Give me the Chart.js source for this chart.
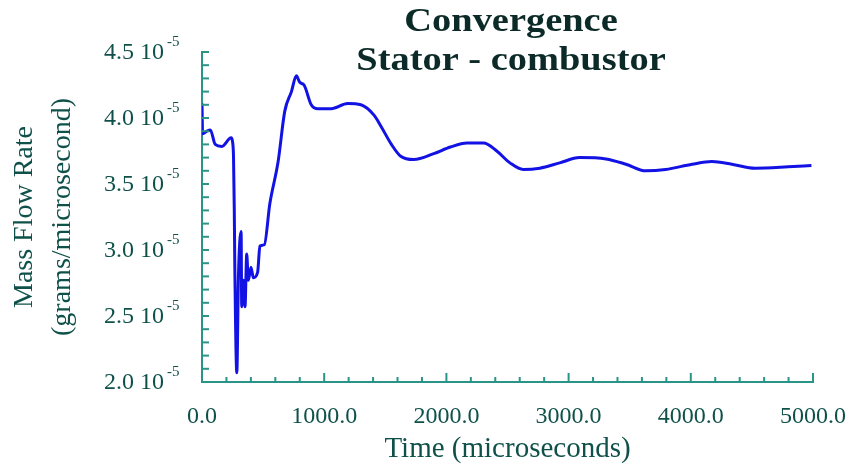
<!DOCTYPE html>
<html>
<head>
<meta charset="utf-8">
<script src="https://cdn.jsdelivr.net/npm/chart.js@4"></script>
<style>
  html, body { margin: 0; padding: 0; background: #fff; }
  #wrap { width: 846px; height: 471px; }
</style>
</head>
<body>
<div id="wrap"><canvas id="grafico" width="846" height="471"></canvas></div>
<script>
// time in microseconds, mass flow rate in units of 10^-5 grams/microsecond
const tempos = [0, 5, 40, 68, 108, 163, 238, 250, 258, 264, 268, 285, 298, 320, 325, 339, 352, 366, 379, 401,
    420, 455, 474, 510, 555, 623, 677, 732, 772, 800, 835, 894, 948, 1057, 1192, 1300, 1409, 1463, 1550, 1626,
    1734, 1897, 2033, 2168, 2303, 2412, 2520, 2629, 2764, 2927, 3089, 3306, 3469, 3631, 3794, 4011, 4173, 4336,
    4526, 4797, 4987];
const fluxo = [4.11, 3.88, 3.90, 3.91, 3.80, 3.785, 3.85, 3.82, 3.70, 3.32, 2.92, 2.07, 2.79, 3.14, 2.57, 2.77, 2.57, 2.97, 2.77, 2.87,
    2.79, 2.83, 3.03, 3.04, 3.35, 3.67, 4.05, 4.20, 4.32, 4.27, 4.25, 4.10, 4.07, 4.07, 4.11, 4.10, 4.02, 3.94, 3.80, 3.71,
    3.685, 3.73, 3.78, 3.81, 3.81, 3.75, 3.66, 3.61, 3.62, 3.66, 3.70, 3.69, 3.65, 3.60, 3.61, 3.65, 3.67, 3.65,
    3.62, 3.63, 3.64];
const rotulosY = [2.0, 2.5, 3.0, 3.5, 4.0, 4.5];
const expoente = '-5';
const titulo = ['Convergence', 'Stator - combustor'];

const corEixo = '#2a9486';
const corTexto = '#0f514a';
const serif = "'Liberation Serif', 'Times New Roman', serif";

const decoracao = {
    id: 'decoracao',
    afterDraw(chart){
        const ctx = chart.ctx;
        const area = chart.chartArea;
        const sx = chart.scales.x;
        const sy = chart.scales.y;
        ctx.save();

        // tick marks pointing into the plot
        ctx.strokeStyle = corEixo;
        ctx.lineWidth = 2;
        sy.ticks.forEach((t) => {
            const y = sy.getPixelForValue(t.value);
            ctx.beginPath();
            ctx.moveTo(area.left, y);
            ctx.lineTo(area.left + 7, y);
            ctx.stroke();
        });
        sx.ticks.forEach((t) => {
            const x = sx.getPixelForValue(t.value);
            const grande = Math.round(t.value) % 1000 === 0;
            ctx.beginPath();
            ctx.moveTo(x, area.bottom);
            ctx.lineTo(x, area.bottom - (grande ? 9 : 5));
            ctx.stroke();
        });

        // y labels with exponent
        ctx.fillStyle = corTexto;
        rotulosY.forEach((v) => {
            const y = sy.getPixelForValue(v);
            ctx.font = '24px ' + serif;
            ctx.textAlign = 'right';
            ctx.textBaseline = 'alphabetic';
            ctx.fillText(v.toFixed(1) + ' 10', area.left - 38, y + 7);
            ctx.font = '15px ' + serif;
            ctx.textAlign = 'left';
            ctx.fillText(expoente, area.left - 35, y - 6);
        });

        // title, a bit wider than the plain font
        ctx.fillStyle = '#0c2b28';
        ctx.font = 'bold 34px ' + serif;
        ctx.textAlign = 'center';
        ctx.translate(511, 0);
        ctx.scale(1.13, 1);
        ctx.fillText(titulo[0], 0, 31);
        ctx.fillText(titulo[1], 0, 70);
        ctx.restore();
    }
};

const ctx = document.getElementById('grafico');

new Chart(ctx, {
    type: 'line',
    data: {
        datasets: [{
            data: tempos.map((t, i) => ({ x: t, y: fluxo[i] })),
            borderColor: '#1212e4',
            borderWidth: 3,
            pointRadius: 0,
            fill: false,
            cubicInterpolationMode: 'monotone'
        }]
    },
    options: {
        responsive: false,
        animation: false,
        layout: { padding: { top: 52, right: 33, left: 0, bottom: 0 } },
        plugins: {
            legend: { display: false },
            tooltip: { enabled: false }
        },
        scales: {
            x: {
                type: 'linear',
                min: 0,
                max: 5000,
                afterFit(scale){
                    scale.height = 89;
                    scale.paddingLeft = 0;
                    scale.paddingRight = 0;
                },
                grid: { display: false, drawTicks: false },
                border: { display: true, color: corEixo, width: 2 },
                ticks: {
                    stepSize: 200,
                    autoSkip: false,
                    maxRotation: 0,
                    padding: 20,
                    color: corTexto,
                    font: { family: serif, size: 24 },
                    callback: (v) => (Math.round(v) % 1000 === 0 ? v.toFixed(1) : '')
                },
                title: {
                    display: true,
                    text: 'Time (microseconds)',
                    color: corTexto,
                    font: { family: serif, size: 29 },
                    padding: { top: 0, bottom: 4 }
                }
            },
            y: {
                type: 'linear',
                min: 2.0,
                max: 4.5,
                afterFit(scale){
                    scale.width = 202;
                    scale.paddingTop = 0;
                    scale.paddingBottom = 0;
                },
                grid: { display: false, drawTicks: false },
                border: { display: true, color: corEixo, width: 2 },
                ticks: { display: false, stepSize: 0.1 },
                title: {
                    display: true,
                    text: ['Mass Flow Rate', '(grams/microsecond)'],
                    color: corTexto,
                    font: { family: serif, size: 28, lineHeight: 1.36 },
                    padding: { top: 6, bottom: 0 }
                }
            }
        }
    },
    plugins: [decoracao]
});
</script>
</body>
</html>
